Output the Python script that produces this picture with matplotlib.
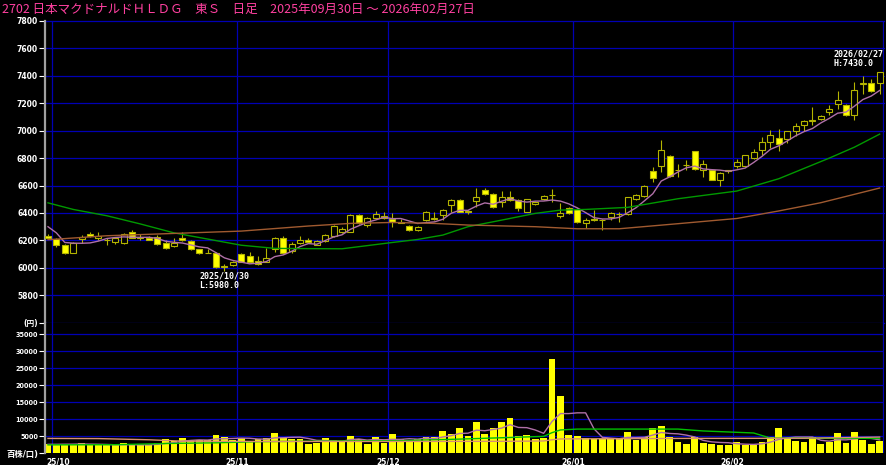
import numpy as np
import pandas as pd
import matplotlib
matplotlib.use('Agg')
import matplotlib.pyplot as plt

plt.rcParams['font.family'] = ['DejaVu Sans', 'Noto Sans CJK JP']

# ---- data ----
title = '2702 日本マクドナルドＨＬＤＧ　東Ｓ　日足　2025年09月30日 ～ 2026年02月27日'

opens = [6235, 6210, 6170, 6110, 6207, 6250, 6215, 6205, 6185, 6180,
         6260, 6215, 6220, 6225, 6180, 6160, 6215, 6195, 6135, 6110,
         6110, 6005, 6020, 6100, 6085, 6050, 6045, 6135, 6220, 6120,
         6180, 6200, 6170, 6195, 6230, 6262, 6265, 6385, 6315, 6365,
         6365, 6355, 6335, 6305, 6278, 6350, 6355, 6385, 6460, 6495,
         6418, 6490, 6565, 6540, 6478, 6520, 6495, 6410, 6466, 6502,
         6530, 6378, 6440, 6430, 6325, 6355, 6350, 6370, 6390, 6390,
         6500, 6522, 6705, 6740, 6815, 6710, 6750, 6852, 6712, 6711,
         6643, 6705, 6740, 6742, 6802, 6857, 6918, 6950, 6937, 6996,
         7045, 7072, 7088, 7137, 7198, 7190, 7118, 7340, 7350, 7350]
highs = [6245, 6215, 6175, 6185, 6240, 6260, 6265, 6215, 6225, 6255,
         6275, 6245, 6235, 6240, 6200, 6220, 6262, 6200, 6140, 6140,
         6112, 6030, 6050, 6105, 6115, 6085, 6145, 6225, 6230, 6190,
         6230, 6215, 6205, 6245, 6310, 6300, 6390, 6395, 6370, 6415,
         6405, 6400, 6355, 6310, 6305, 6412, 6405, 6430, 6500, 6500,
         6425, 6580, 6580, 6545, 6558, 6558, 6500, 6505, 6490, 6530,
         6575, 6470, 6445, 6435, 6360, 6420, 6355, 6410, 6408, 6520,
         6540, 6605, 6735, 6935, 6825, 6755, 6790, 6855, 6784, 6715,
         6700, 6715, 6795, 6825, 6870, 6955, 7003, 7010, 7000, 7055,
         7075, 7173, 7115, 7190, 7290, 7195, 7356, 7400, 7380, 7430]
lows = [6210, 6155, 6100, 6105, 6180, 6228, 6205, 6170, 6175, 6175,
        6215, 6200, 6200, 6170, 6140, 6155, 6195, 6130, 6100, 6105,
        6000, 5980, 6015, 6040, 6040, 6020, 6040, 6115, 6100, 6110,
        6175, 6180, 6165, 6190, 6225, 6255, 6260, 6320, 6300, 6360,
        6355, 6300, 6325, 6270, 6270, 6345, 6350, 6350, 6410, 6405,
        6395, 6445, 6530, 6440, 6445, 6490, 6415, 6405, 6460, 6495,
        6480, 6360, 6395, 6330, 6288, 6345, 6275, 6350, 6335, 6385,
        6495, 6515, 6625, 6700, 6665, 6660, 6710, 6715, 6660, 6640,
        6600, 6690, 6725, 6735, 6795, 6820, 6877, 6852, 6910, 6960,
        6995, 7045, 7080, 7112, 7156, 7105, 7081, 7270, 7285, 7270]
closes = [6220, 6165, 6105, 6180, 6226, 6232, 6232, 6200, 6215, 6250,
          6220, 6225, 6205, 6175, 6145, 6180, 6200, 6135, 6105, 6108,
          6005, 6012, 6040, 6045, 6045, 6025, 6075, 6220, 6105, 6175,
          6200, 6185, 6195, 6240, 6305, 6280, 6385, 6325, 6365, 6390,
          6378, 6335, 6330, 6275, 6300, 6408, 6362, 6425, 6495, 6410,
          6405, 6518, 6540, 6445, 6520, 6497, 6435, 6500, 6480, 6525,
          6532, 6397, 6398, 6335, 6352, 6348, 6348, 6400, 6395, 6516,
          6533, 6600, 6658, 6857, 6670, 6712, 6752, 6718, 6755, 6643,
          6694, 6710, 6772, 6820, 6845, 6918, 6966, 6901, 6996, 7032,
          7071, 7080, 7105, 7161, 7222, 7112, 7295, 7345, 7290, 7425]

# volume, hundreds of shares
volumes = [2560, 2560, 2650, 2650, 2850, 2360, 2360, 2360, 2260, 2850,
           2360, 2260, 2260, 3050, 4130, 3540, 4330, 3540, 3840, 3840,
           5210, 4620, 3930, 4330, 3640, 4030, 4520, 5800, 4520, 4230,
           4230, 2560, 3050, 4330, 3740, 3540, 5020, 4030, 2660, 4720,
           3050, 5610, 4030, 3640, 4030, 4720, 4720, 6490, 5610, 7280,
           5110, 9240, 5610, 7470, 9240, 10230, 5110, 5310, 4030, 4330,
           27640, 16820, 5310, 5110, 4330, 4030, 4230, 4230, 4230, 6290,
           3840, 4620, 7470, 8060, 4820, 3250, 2750, 4720, 3050, 2660,
           2360, 2360, 3250, 2360, 2360, 3250, 4820, 7280, 4520, 3640,
           3250, 4820, 2560, 3150, 5800, 3050, 6290, 3840, 2560, 3640]

# 5-day price average for the first four days (needs closes before 9/30)
ma5_head = [6300, 6255, 6185, 6180]

# 25-day and 75-day averages, read at the listed day indexes
ma25_idx = [0, 3, 7, 11, 15, 19, 23, 27, 31, 35, 41, 44, 47, 50, 54, 58,
            61, 64, 69, 75, 82, 87, 93, 96, 99]
ma25_val = [6474, 6426, 6380, 6320, 6255, 6210, 6165, 6142, 6140, 6139,
            6185, 6207, 6239, 6300, 6348, 6397, 6421, 6426, 6441, 6504,
            6560, 6650, 6800, 6880, 6975]
ma75_idx = [0, 7, 15, 23, 31, 36, 41, 46, 50, 58, 63, 68, 75, 82, 87, 92, 99]
ma75_val = [6205, 6234, 6251, 6268, 6305, 6324, 6331, 6324, 6312, 6300,
            6285, 6285, 6322, 6360, 6415, 6475, 6582]

vma25_idx = [0, 8, 14, 20, 25, 34, 42, 49, 54, 59, 60, 61, 63, 75, 78, 84,
             86, 99]
vma25_val = [2400, 2450, 2800, 3000, 3340, 3540, 3640, 4100, 4500, 4900,
             6000, 6800, 7050, 7050, 6500, 5900, 4400, 4300]
vma75_idx = [0, 6, 12, 16, 25, 40, 55, 59, 60, 61, 75, 90, 99]
vma75_val = [4300, 4250, 3900, 3500, 3400, 3400, 3450, 3550, 3900, 4150,
             4300, 4350, 4700]

month_start = [1, 23, 41, 63, 82]
month_labels = ['25/10', '25/11', '25/12', '26/01', '26/02']

price_ticks = list(range(5600, 7801, 200))
vol_ticks = list(range(0, 35001, 5000))

# ---- styles ----
W, H = 886, 465
GRID = '#0000b4'
EDGE = '#b4b400'
YELLOW = '#ffff00'
PINK = '#b070a8'
GREEN = '#009900'
BROWN = '#a05a30'

opens = np.array(opens, float)
highs = np.array(highs, float)
lows = np.array(lows, float)
closes = np.array(closes, float)
volumes = np.array(volumes, float)
x = np.arange(len(closes))

ma5 = pd.Series(closes).rolling(5).mean().to_numpy()
ma5[:len(ma5_head)] = ma5_head
vma5 = pd.Series(volumes).rolling(5, min_periods=1).mean().to_numpy()

fig = plt.figure(figsize=(W / 100, H / 100), dpi=100, facecolor='black')


def px_axes(left, top, right, bottom):
    return fig.add_axes([left / W, 1 - bottom / H,
                         (right - left) / W, (bottom - top) / H])


ax = px_axes(45, 21, 884, 322.7)
axv = px_axes(45, 322.7, 884, 453)
xlim = (-0.357, 99.52)

for a in (ax, axv):
    a.set_facecolor('black')
    a.set_xlim(*xlim)
    for s in ('top', 'right', 'bottom'):
        a.spines[s].set_visible(False)
    a.spines['left'].set_color('#a0a0a0')
    a.spines['left'].set_linewidth(1.6)
    a.set_xticks([])
    for m in month_start:
        a.axvline(m - 0.5, color=GRID, lw=0.9, zorder=0)
    a.axvline(xlim[1] - 0.15, color=GRID, lw=0.9, zorder=0)

# price panel
ax.set_ylim(5600, 7800)
for v in price_ticks:
    ax.axhline(v, color=GRID, lw=0.9, zorder=0, clip_on=False)

ax.vlines(x, lows, highs, color=EDGE, lw=0.8, zorder=3)
up = closes >= opens
body_lo = np.minimum(opens, closes)
body_h = np.maximum(np.abs(closes - opens), 3)
ax.bar(x[up], body_h[up], bottom=body_lo[up], width=0.72,
       facecolor='black', edgecolor=EDGE, lw=0.8, zorder=4)
ax.bar(x[~up], body_h[~up], bottom=body_lo[~up], width=0.72,
       facecolor=YELLOW, edgecolor=EDGE, lw=0.8, zorder=4)

ax.plot(x, ma5, color=PINK, lw=1.0, zorder=5)
ax.plot(ma25_idx, ma25_val, color=GREEN, lw=1.0, zorder=5)
ax.plot(ma75_idx, ma75_val, color=BROWN, lw=1.0, zorder=5)

ax.set_yticks(price_ticks)
ax.set_yticklabels(['(円)'] + [str(v) for v in price_ticks[1:]])
ax.tick_params(axis='y', colors='white', labelsize=5.5, length=4,
               width=0.8, pad=1)
for lbl in ax.get_yticklabels():
    lbl.set_fontweight('bold')

# high / low notes
lo_i = int(np.argmin(lows))
hi_i = int(np.argmax(highs))
ax.annotate('2025/10/30\nL:%.1f' % lows[lo_i], xy=(lo_i, lows[lo_i]),
            xytext=(0, -1), textcoords='offset pixels', ha='center',
            va='top', multialignment='left', color='white', fontsize=6,
            family='DejaVu Sans Mono', fontweight='bold', linespacing=1.0)
ax.annotate('2026/02/27\nH:%.1f' % highs[hi_i], xy=(xlim[1], highs[hi_i]),
            xytext=(-1, 4), textcoords='offset pixels', ha='right',
            va='bottom', multialignment='left', color='white', fontsize=6,
            family='DejaVu Sans Mono', fontweight='bold', linespacing=1.0)

# volume panel
axv.set_ylim(0, 38420)
for v in vol_ticks[1:]:
    axv.axhline(v, color=GRID, lw=0.9, zorder=0)
axv.bar(x, volumes, width=0.8, color=YELLOW, zorder=2)
axv.plot(x, vma5, color=PINK, lw=1.0, zorder=3)
axv.plot(vma25_idx, vma25_val, color='#00c000', lw=1.0, zorder=3)
axv.plot(vma75_idx, vma75_val, color='#d89070', lw=1.0, zorder=3)

axv.set_yticks(vol_ticks)
axv.set_yticklabels(['百株/口)'] + [str(v) for v in vol_ticks[1:]])
axv.tick_params(axis='y', colors='white', labelsize=4.7, length=4,
                width=0.8, pad=1)
for lbl in axv.get_yticklabels():
    lbl.set_fontweight('bold')
axv.get_yticklabels()[0].set_fontsize(6)

for i, (m, lab) in enumerate(zip(month_start, month_labels)):
    if i == 0:
        axv.annotate(lab, xy=(xlim[0], 0), xycoords=('data', 'axes fraction'),
                     xytext=(1, -4), textcoords='offset pixels', ha='left',
                     va='top', color='white', fontsize=5.5, fontweight='bold')
    else:
        axv.annotate(lab, xy=(m - 0.5, 0), xycoords=('data', 'axes fraction'),
                     xytext=(0, -4), textcoords='offset pixels', ha='center',
                     va='top', color='white', fontsize=5.5, fontweight='bold')

fig.text(2 / W, 1 - 2.5 / H, title, color='#ff40a0', fontsize=9,
         family='Noto Sans CJK JP', ha='left', va='top')

fig.savefig('out.png', dpi=100, facecolor='black')
